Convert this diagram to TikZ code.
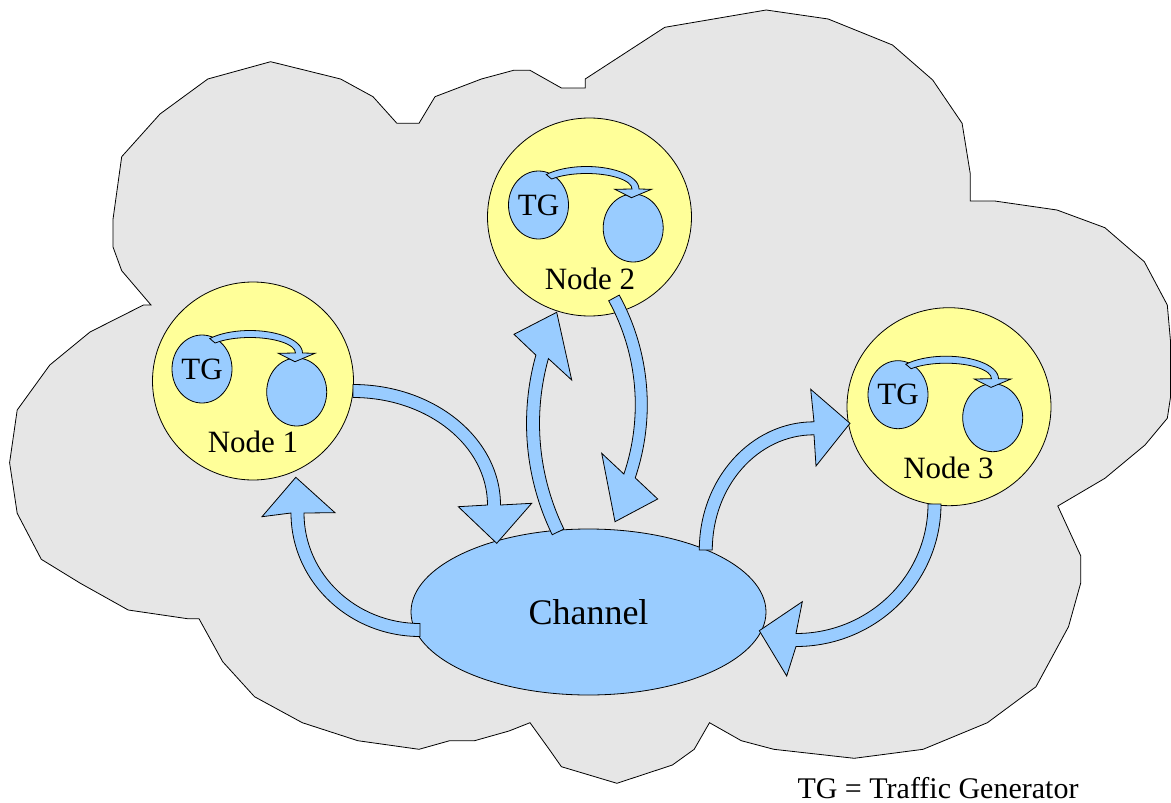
\documentclass[tikz,border=0pt]{standalone}
\usepackage{fontspec}
\setmainfont{Liberation Serif}
\usetikzlibrary{shapes.geometric,calc}
\definecolor{cloudgray}{HTML}{E6E6E6}
\definecolor{stationyellow}{HTML}{FFFF99}
\definecolor{skyblue}{HTML}{99CCFF}
\tikzset{
  outline/.style={draw=black, line width=0.8pt},
  cloudsty/.style={outline, fill=cloudgray, line join=miter},
  chansty/.style={ellipse, outline, fill=skyblue, inner sep=0pt, minimum width=355pt, minimum height=166pt,
    font=\fontsize{36}{40}\selectfont},
  stationsty/.style={ellipse, outline, fill=stationyellow, inner sep=0pt, minimum width=204pt, minimum height=198pt},
  tgsty/.style={ellipse, outline, fill=skyblue, inner sep=0pt, minimum width=60pt, minimum height=68pt,
    font=\fontsize{31}{34}\selectfont},
  lblsty/.style={inner sep=0pt, font=\fontsize{31}{34}\selectfont},
  legendsty/.style={inner sep=0pt, font=\fontsize{30}{34}\selectfont},
  arrowsty/.style={outline, fill=skyblue, line join=miter},
}
% #1 centre, #2 rx, #3 ry, #4 half width, #5 start angle, #6 end angle,
% #7 outer wing, #8 tip, #9 inner wing
\newcommand\arcarrow[9]{%
  \pgfmathsetmacro\myRxo{#2+#4}\pgfmathsetmacro\myRyo{#3+#4}%
  \pgfmathsetmacro\myRxi{#2-#4}\pgfmathsetmacro\myRyi{#3-#4}%
  \draw[arrowsty] ([shift={#1}]#5:{\myRxo} and {\myRyo})
    arc[start angle=#5, end angle=#6, x radius=\myRxo, y radius=\myRyo]
    -- #7 -- #8 -- #9
    -- ([shift={#1}]#6:{\myRxi} and {\myRyi})
    arc[start angle=#6, end angle=#5, x radius=\myRxi, y radius=\myRyi]
    -- cycle;}
\tikzset{stationpic/.pic={
  \node[tgsty] (-tg) at (-51,-12) {TG};
  \node[tgsty] (-q) at (43.7,11) {};
  \arcarrow{(-3,-28)}{49}{19}{3.5}{220}{360}{(62,-27.7)}{(42,-19.3)}{(25.3,-27.7)}
}}
\begin{document}
\begin{tikzpicture}[x=1pt,y=-1pt]
\useasboundingbox (0,0) rectangle (1171,803);
% cloud
\draw[cloudsty] (9.6,462.7) -- (17.2,410) -- (49.8,365) -- (90,332) -- (143.5,305) -- (151,305)
 -- (121.7,270.7) -- (112.9,246.7) -- (112.9,220) -- (121.7,156.7) -- (160,114) -- (207.8,79)
 -- (270.6,61.7) -- (340.6,79) -- (373,96.7) -- (396.9,123.3) -- (419,123.3) -- (435,96.7)
 -- (481.4,79) -- (513.6,70.3) -- (530,70.3) -- (561.4,88) -- (585.2,88) -- (585.2,79)
 -- (664.8,27.3) -- (766.2,10) -- (828.2,19) -- (892.5,45) -- (932.7,80) -- (962.1,123.3)
 -- (970.2,173.3) -- (970.2,201) -- (994.7,201) -- (1057,210) -- (1104.9,227.7) -- (1144.3,261.7)
 -- (1167.3,305) -- (1170.4,340) -- (1170.4,398) -- (1167.3,418.3) -- (1145,445) -- (1104.9,478.3)
 -- (1057.8,506) -- (1080.8,556) -- (1080.8,582.7) -- (1068.5,626.7) -- (1036,686.7) -- (987.4,722.7)
 -- (923.1,749.3) -- (854.2,758.3) -- (773.8,749.3) -- (741.3,740.7) -- (709.5,722.7) -- (694.2,749.3)
 -- (672.4,765) -- (616.9,783.3) -- (561.4,766.7) -- (549.2,749.3) -- (530,722.7) -- (509,731)
 -- (474.6,740.7) -- (449.7,740.7) -- (419,749.3) -- (357.8,740.7) -- (302.3,722.7) -- (254.5,696.7)
 -- (222.7,661.7) -- (199,618.7) -- (187.5,618.7) -- (128.2,610) -- (80.4,583.3) -- (41.3,559.3)
 -- (17.2,513.3) -- cycle;
% channel and stations
\node[chansty] (ch) at (588.5,612) {Channel};
\node[stationsty, minimum width=201pt] (n1) at (253,381) {};
\node[stationsty] (n2) at (589.5,217) {};
\node[stationsty] (n3) at (949,406.7) {};
\pic (n1i) at (n1.center) {stationpic};
\pic (n2i) at (n2.center) {stationpic};
\pic (n3i) at (n3.center) {stationpic};
\node[lblsty] (n1lab) at ($(n1.center)+(0,61)$) {Node 1};
\node[lblsty] (n2lab) at ($(n2.center)+(0.5,62)$) {Node 2};
\node[lblsty] (n3lab) at ($(n3.center)+(-0.5,61.6)$) {Node 3};
% block arrows between stations and channel
\arcarrow{(353,505)}{141}{114}{6.5}{-90}{0}{(531.7,503.3)}{(496.7,543.3)}{(458.3,506.7)}
\arcarrow{(420,513)}{122.5}{117}{6.5}{90}{180}{(262,516.7)}{(295.8,477.3)}{(335,512.7)}
\arcarrow{(780.5,423.4)}{247.5}{247.5}{6.5}{154}{195.6}{(514,334.3)}{(556.7,312.3)}{(571.7,380)}
\arcarrow{(419,404.7)}{222.3}{222.3}{6}{-28.7}{18.7}{(657.7,499)}{(615,521.7)}{(601.7,453.3)}
\arcarrow{(814,550)}{108.2}{121.7}{6.5}{180}{270}{(810.7,389.3)}{(850,423.3)}{(816,466)}
\arcarrow{(796,504)}{138.5}{136}{6.5}{0}{90}{(786.7,676)}{(759.3,630.7)}{(802.3,601.7)}
% legend
\node[legendsty] (legend) at (938,788) {TG = Traffic Generator};
\end{tikzpicture}
\end{document}
